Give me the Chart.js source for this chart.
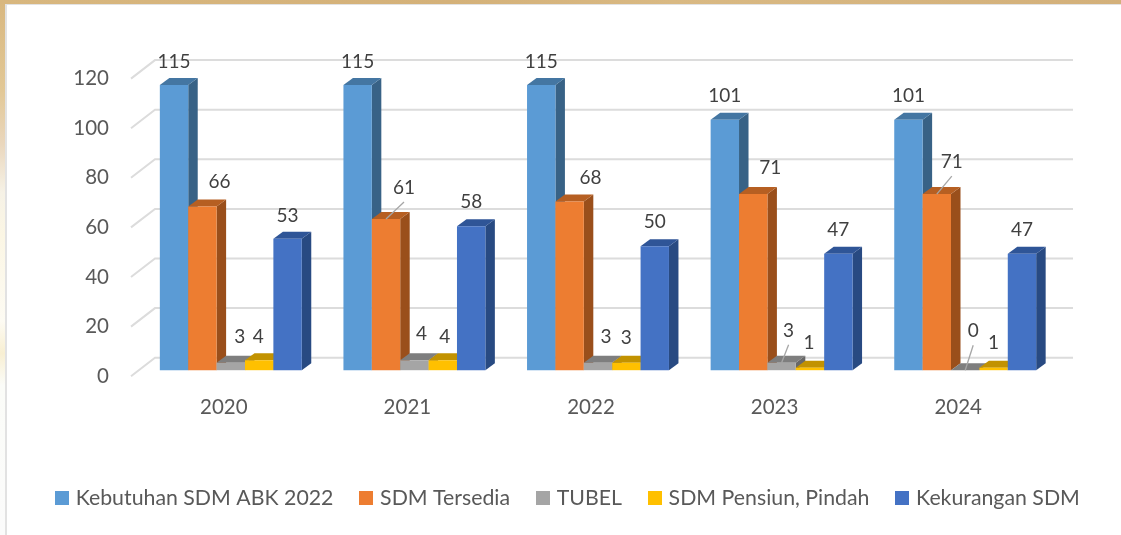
<!DOCTYPE html>
<html><head><meta charset="utf-8">
<style>
html,body{margin:0;padding:0;width:1121px;height:535px;overflow:hidden;background:#fff}
#bg{position:absolute;left:0;top:0;width:1121px;height:535px;
background:
 linear-gradient(90deg,#d8b77f 0,#d4b179 40%,#d9b983 60%,#d3b07a 100%) 0 0/1121px 4px no-repeat,
 linear-gradient(180deg,#d8b77f 0,#e2c896 17%,#ead7bd 27%,#f6f2e6 36%,#fbf6e4 44%,#fdfbf3 60%,#f8efd2 66%,#fbfcf8 72%,#fbfbfb 100%) 0 0/5px 535px no-repeat,
 #fff;}
#edge{position:absolute;left:5px;top:4px;width:1116px;height:531px;box-sizing:border-box;border-left:2px solid #e2e2e2;border-top:1px solid #e2e2e2;}
canvas{position:absolute;left:0;top:0}
</style>
<script src="https://cdn.jsdelivr.net/npm/chart.js@4"></script>
</head><body><div id="bg"></div><div id="edge"></div>
<canvas id="c" width="1121" height="535"></canvas>
<script>
const categories = ['2020','2021','2022','2023','2024'];
const kebutuhan = [115,115,115,101,101];
const tersedia  = [66,61,68,71,71];
const tubel     = [3,4,3,3,0];
const pensiun   = [4,4,3,1,1];
const kekurangan= [53,58,50,47,47];
const seriesNames = ['Kebutuhan SDM ABK 2022','SDM Tersedia','TUBEL','SDM Pensiun, Pindah','Kekurangan SDM'];

const frontColors = ['#5B9BD5','#ED7D31','#A5A5A5','#FFC000','#4472C4'];
const topColors   = ['#4476A2','#B65F22','#7E7E7E','#C29200','#2F5597'];
const sideColors  = ['#386286','#9A4F1B','#686868','#A37B00','#284A82'];

// label nudges relative to each bar's top centre [dx,dy]
const labelShift = [
 [[0,-23],[0,-23],[0,-23],[0,-24],[0,-24]],
 [[17,-25],[18,-31],[21,-24],[17,-26],[15,-32]],
 [[9,-26],[7,-26],[8,-26],[7,-32],[8,-39]],
 [[-1,-23],[2,-23],[0,-25],[-1,-24.5],[0,-24.5]],
 [[0,-23],[0,-24],[0,-24],[0,-24],[0,-24]]
];
const leaders = [[1,1],[1,4],[2,3],[2,4]];

const DX = 9.5, DY = 7;          // bar depth
const BACK_X = 16, BACK_Y = -12.5; // wall offset
const FRONT_X = -8, FRONT_Y = 6;

function swatch(color){
  const s=document.createElement('canvas');s.width=14;s.height=14;
  const g=s.getContext('2d');g.fillStyle=color;g.fillRect(0,0,14,14);return s;
}
const swatches = frontColors.map(swatch);

const threeD = {
  id:'threeD',
  beforeDatasetsDraw(chart){
    const {ctx, scales:{x,y}} = chart;
    const L = x.left, R = x.right;
    ctx.save();
    ctx.strokeStyle = '#dcdcdc';
    ctx.lineWidth = 2;
    y.ticks.forEach(t=>{
      const py = y.getPixelForValue(t.value);
      ctx.beginPath();
      ctx.moveTo(L+FRONT_X, py+FRONT_Y);
      ctx.lineTo(L+BACK_X, py+BACK_Y);
      ctx.lineTo(R+BACK_X, py+BACK_Y);
      ctx.stroke();
    });
    ctx.restore();
    chart.data.datasets.forEach((ds,i)=>{
      const meta = chart.getDatasetMeta(i);
      meta.data.forEach(b=>{
        const l=b.x-b.width/2, r=b.x+b.width/2, t=b.y, bt=b.base;
        ctx.fillStyle = sideColors[i];
        ctx.beginPath();ctx.moveTo(r,t);ctx.lineTo(r+DX,t-DY);ctx.lineTo(r+DX,bt-DY);ctx.lineTo(r,bt);ctx.closePath();ctx.fill();
        ctx.fillStyle = topColors[i];
        ctx.beginPath();ctx.moveTo(l,t);ctx.lineTo(l+DX,t-DY);ctx.lineTo(r+DX,t-DY);ctx.lineTo(r,t);ctx.closePath();ctx.fill();
      });
      meta.controller.draw();
    });
    return false;
  },
  afterDraw(chart){
    const {ctx} = chart;
    ctx.save();
    ctx.font = '19px Lato';
    ctx.textAlign='center';ctx.textBaseline='middle';
    ctx.fillStyle='#404040';
    chart.data.datasets.forEach((ds,i)=>{
      chart.getDatasetMeta(i).data.forEach((b,k)=>{
        const [dx,dy]=labelShift[i][k];
        const lx=b.x+dx, ly=b.y+dy;
        ctx.fillText(String(ds.data[k]),lx,ly);
        if(leaders.some(a=>a[0]===i&&a[1]===k)){
          ctx.save();ctx.strokeStyle='#a6a6a6';ctx.lineWidth=1.3;
          ctx.beginPath();ctx.moveTo(lx,ly+14);ctx.lineTo(b.x,b.y);ctx.stroke();ctx.restore();
        }
      });
    });
    ctx.restore();
  }
};

const values=[kebutuhan,tersedia,tubel,pensiun,kekurangan];
new Chart(document.getElementById('c'),{
  type:'bar',
  data:{labels:categories,datasets:values.map((v,i)=>({
    label:seriesNames[i],data:v,backgroundColor:frontColors[i],borderWidth:0,
    categoryPercentage:0.773,barPercentage:1
  }))},
  plugins:[threeD],
  options:{
    responsive:false,animation:false,
    layout:{padding:{left:29,top:72.6,right:0,bottom:16}},
    plugins:{
      tooltip:{enabled:false},
      legend:{position:'bottom',align:'start',
        labels:{boxWidth:14,boxHeight:14,padding:30,usePointStyle:true,pointStyleWidth:6,color:'#595959',font:{family:'Lato',size:21.3},
          generateLabels(chart){
            return Chart.defaults.plugins.legend.labels.generateLabels(chart)
              .map(it=>Object.assign(it,{pointStyle:swatches[it.datasetIndex]}));
          }}}
    },
    scales:{
      x:{grid:{display:false},border:{display:false},
        ticks:{color:'#595959',font:{family:'Lato',size:20.5},padding:17,labelOffset:-7,maxRotation:0},
        afterFit(s){s.height=87.5;}},
      y:{min:0,max:120,grid:{display:false,drawTicks:false},border:{display:false},
        ticks:{stepSize:20,color:'#595959',font:{family:'Lato',size:20.5},padding:30,labelOffset:6},
        afterFit(s){s.width=110;}},
      spare:{position:'right',display:true,grid:{display:false,drawTicks:false},border:{display:false},
        ticks:{display:false},afterFit(s){s.width=64;}}
    }
  }
});
</script></body></html>
